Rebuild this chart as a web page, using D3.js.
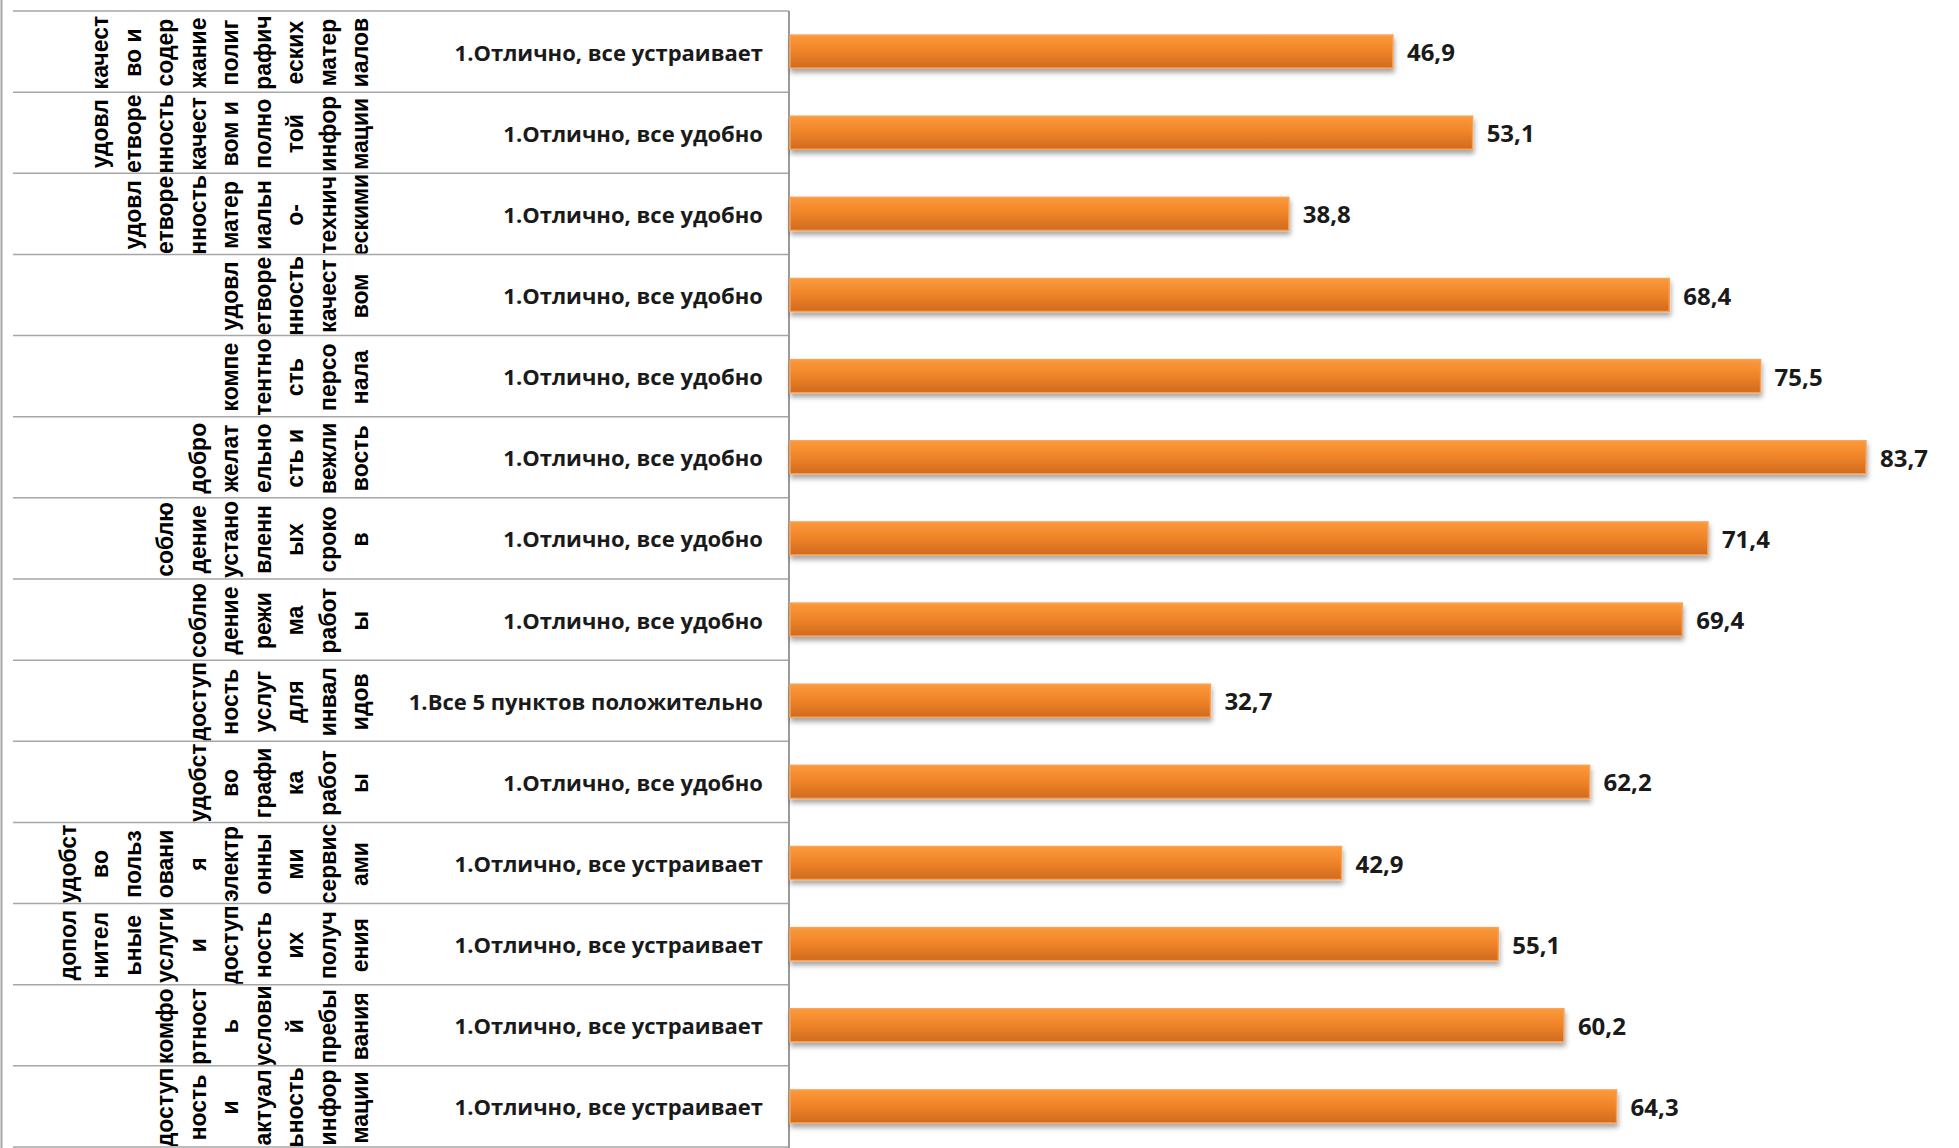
<!DOCTYPE html>
<html>
<head>
<meta charset="utf-8">
<script src="https://cdn.jsdelivr.net/npm/d3@7"></script>
<style>
  html, body { margin: 0; padding: 0; background: #fff; }
  svg { display: block; }
</style>
</head>
<body>
<svg id="chart" width="1959" height="1148"></svg>
<script>
// ---- data ----
const groupLabels = [
  ["качест","во и","содер","жание","полиг","рафич","еских","матер","иалов"],
  ["удовл","етворе","нность","качест","вом и","полно","той","инфор","мации"],
  ["удовл","етворе","нность","матер","иальн","о-","технич","ескими"],
  ["удовл","етворе","нность","качест","вом"],
  ["компе","тентно","сть","персо","нала"],
  ["добро","желат","ельно","сть и","вежли","вость"],
  ["соблю","дение","устано","вленн","ых","сроко","в"],
  ["соблю","дение","режи","ма","работ","ы"],
  ["доступ","ность","услуг","для","инвал","идов"],
  ["удобст","во","графи","ка","работ","ы"],
  ["удобст","во","польз","овани","я","электр","онны","ми","сервис","ами"],
  ["допол","нител","ьные","услуги","и","доступ","ность","их","получ","ения"],
  ["комфо","ртност","ь","услови","й","пребы","вания"],
  ["доступ","ность","и","актуал","ьность","инфор","мации"]
];
const categories = [
  "1.Отлично, все устраивает",
  "1.Отлично, все удобно",
  "1.Отлично, все удобно",
  "1.Отлично, все удобно",
  "1.Отлично, все удобно",
  "1.Отлично, все удобно",
  "1.Отлично, все удобно",
  "1.Отлично, все удобно",
  "1.Все 5 пунктов положительно",
  "1.Отлично, все удобно",
  "1.Отлично, все устраивает",
  "1.Отлично, все устраивает",
  "1.Отлично, все устраивает",
  "1.Отлично, все устраивает"
];
const values = [46.9, 53.1, 38.8, 68.4, 75.5, 83.7, 71.4, 69.4, 32.7, 62.2, 42.9, 55.1, 60.2, 64.3];

// ---- layout ----
const W = 1959, H = 1148;
const svg = d3.select("#chart");
const idx = d3.range(values.length);

const y = d3.scaleBand().domain(idx).range([11, 1147]).padding(0);
const x = d3.scaleLinear().domain([0, 90]).range([790, 1947]);
const fmt = v => d3.format(".1f")(v).replace(".", ",");

const defs = svg.append("defs");
const grad = defs.append("linearGradient").attr("id", "barGrad")
  .attr("x1", 0).attr("y1", 0).attr("x2", 0).attr("y2", 1);
grad.append("stop").attr("offset", "0%").attr("stop-color", "#FB9A3A");
grad.append("stop").attr("offset", "45%").attr("stop-color", "#F18529");
grad.append("stop").attr("offset", "100%").attr("stop-color", "#D06A1E");

const shadow = defs.append("filter").attr("id", "shadow")
  .attr("x", "-5%").attr("y", "-30%").attr("width", "110%").attr("height", "180%");
shadow.append("feDropShadow").attr("dx", 1).attr("dy", 4).attr("stdDeviation", 2.5)
  .attr("flood-color", "#000").attr("flood-opacity", 0.35);

// clip paths for each row of the left column
idx.forEach(i => {
  defs.append("clipPath").attr("id", "clip" + i)
    .append("rect").attr("x", 13).attr("y", y(i) + 1)
    .attr("width", 776).attr("height", y.bandwidth() - 2);
});

// grid lines of the table
const gridColor = "#a6a6a6";
svg.append("line").attr("x1", 1.5).attr("x2", 1.5).attr("y1", 0).attr("y2", H)
  .attr("stroke", gridColor).attr("stroke-width", 2);
svg.append("g").selectAll("line")
  .data(d3.range(values.length + 1))
  .join("line")
  .attr("x1", 13).attr("x2", x(0) - 1)
  .attr("y1", i => i < values.length ? y(i) : y(values.length - 1) + y.bandwidth())
  .attr("y2", i => i < values.length ? y(i) : y(values.length - 1) + y.bandwidth())
  .attr("stroke", gridColor).attr("stroke-width", 1.5);
svg.append("line").attr("x1", x(0) - 1).attr("x2", x(0) - 1)
  .attr("y1", y(0)).attr("y2", H)
  .attr("stroke", "#9a9a9a").attr("stroke-width", 2);

// left column: rotated wrapped group labels
const lastBaseline = 368, pitch = 32.5;
const grp = svg.append("g").attr("font-family", "'Liberation Sans', Arial, sans-serif")
  .attr("font-weight", "bold").attr("font-size", 23).attr("fill", "#000");
idx.forEach(i => {
  const lines = groupLabels[i];
  const n = lines.length;
  const cy = y(i) + y.bandwidth() / 2 + 1;
  const g = grp.append("g").attr("clip-path", `url(#clip${i})`);
  g.selectAll("text").data(lines).join("text")
    .attr("transform", (d, j) => `translate(${lastBaseline - (n - 1 - j) * pitch},${cy}) rotate(-90)`)
    .attr("text-anchor", "middle")
    .text(d => d);
});

// middle column: category labels
svg.append("g").selectAll("text").data(idx).join("text")
  .attr("x", 763)
  .attr("y", i => y(i) + y.bandwidth() / 2)
  .attr("text-anchor", "end")
  .attr("dominant-baseline", "central")
  .attr("font-family", "'Open Sans', sans-serif")
  .attr("font-weight", "bold").attr("font-size", 22).attr("fill", "#1a1a1a")
  .text(i => categories[i]);

// bars
const barH = 33;
svg.append("g").selectAll("rect").data(idx).join("rect")
  .attr("x", x(0))
  .attr("y", i => y(i) + (y.bandwidth() - barH) / 2)
  .attr("width", i => x(values[i]) - x(0))
  .attr("height", barH)
  .attr("fill", "url(#barGrad)")
  .attr("stroke", "#F9A257").attr("stroke-width", 1.5)
  .attr("filter", "url(#shadow)");

// value labels
svg.append("g").selectAll("text").data(idx).join("text")
  .attr("x", i => x(values[i]) + 14)
  .attr("y", i => y(i) + y.bandwidth() / 2)
  .attr("dominant-baseline", "central")
  .attr("font-family", "'Open Sans', sans-serif")
  .attr("font-weight", "bold").attr("font-size", 24).attr("fill", "#1a1a1a")
  .text(i => fmt(values[i]));
</script>
</body>
</html>
